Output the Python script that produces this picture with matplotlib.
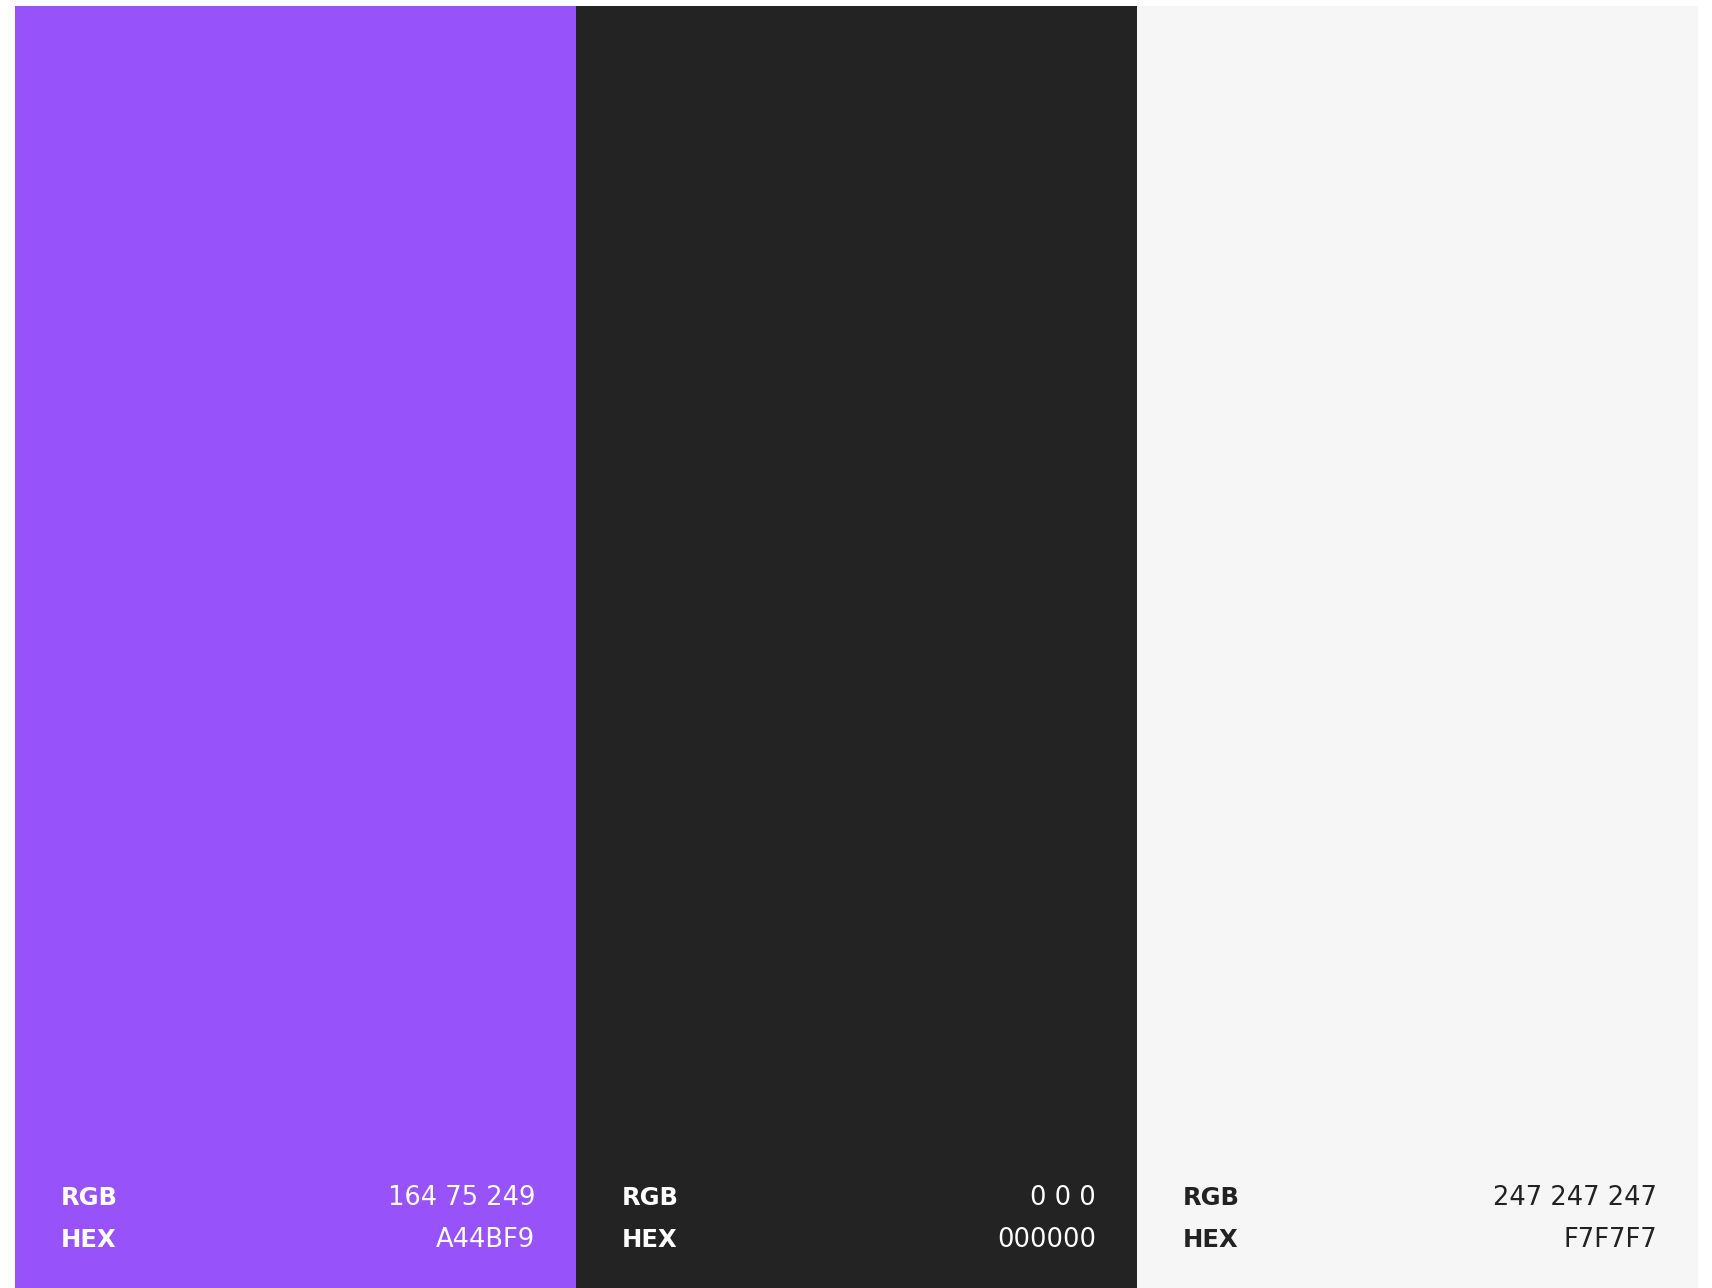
import matplotlib
matplotlib.use('Agg')
import matplotlib.pyplot as plt

# palette swatches
swatches = ['purple', 'dark', 'light']
swatch_colors = ['#9753F9', '#232323', '#F6F6F6']
rgb_values = ['164 75 249', '0 0 0', '247 247 247']
hex_values = ['A44BF9', '000000', 'F7F7F7']
text_colors = ['white', 'white', '#222222']
row_labels = ['RGB', 'HEX']

W, H = 1712, 1288
fig = plt.figure(figsize=(W / 100, H / 100), dpi=100)
fig.patch.set_facecolor('white')

# axes in pixel fractions: left 15, right 1698, top 6, bottom 1288
ax = fig.add_axes([15 / W, 0, (1698 - 15) / W, (1288 - 6) / H])
ax.bar(range(len(swatches)), [1] * len(swatches), width=1.0,
       color=swatch_colors, linewidth=0)
ax.set_xlim(-0.5, len(swatches) - 0.5)
ax.set_ylim(0, 1)
ax.axis('off')

baselines = [0.0647, 0.0320]
for i in range(len(swatches)):
    vals = [rgb_values[i], hex_values[i]]
    for j, lab in enumerate(row_labels):
        ax.text(i - 0.5 + 0.082, baselines[j], lab, color=text_colors[i],
                fontsize=17.5, fontweight='bold', family='DejaVu Sans',
                ha='left', va='baseline')
        ax.text(i + 0.5 - 0.073, baselines[j], vals[j], color=text_colors[i],
                fontsize=18.5, family='DejaVu Sans',
                ha='right', va='baseline')

fig.savefig('out.png', dpi=100, facecolor=fig.get_facecolor())
